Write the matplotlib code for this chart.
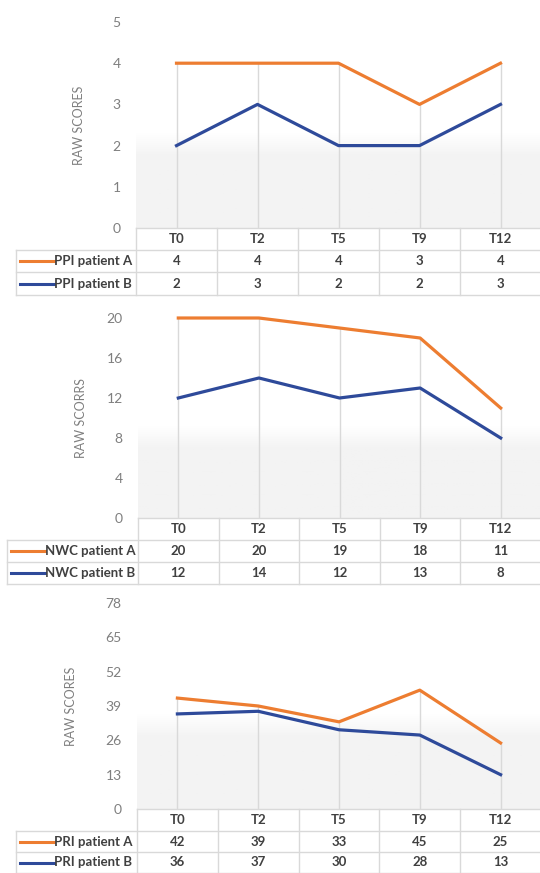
import numpy as np
import matplotlib
matplotlib.use("Agg")
import matplotlib.pyplot as plt
from matplotlib.colors import LinearSegmentedColormap

W, H = 540, 873
ORANGE = "#ED7D31"
BLUE = "#2E4A9A"
GRID = "#D9D9D9"
TXT = "#404040"
TICK = "#7F7F7F"

plt.rcParams["font.family"] = ["Lato", "DejaVu Sans"]

categories = ["T0", "T2", "T5", "T9", "T12"]

ppi_a = [4, 4, 4, 3, 4]
ppi_b = [2, 3, 2, 2, 3]
nwc_a = [20, 20, 19, 18, 11]
nwc_b = [12, 14, 12, 13, 8]
pri_a = [42, 39, 33, 45, 25]
pri_b = [36, 37, 30, 28, 13]

panels = [
    # series, labels, ylabel, yticks, layout (pixels)
    dict(a=ppi_a, b=ppi_b, names=("PPI patient A", "PPI patient B"),
         ylabel="RAW SCORES", yticks=[0, 1, 2, 3, 4, 5],
         top=22, bottom=228, rows=(228, 250, 272, 295),
         lab_l=16, left=136, right=541, ylab_x=85),
    dict(a=nwc_a, b=nwc_b, names=("NWC patient A", "NWC patient B"),
         ylabel="RAW SCORRS", yticks=[0, 4, 8, 12, 16, 20],
         top=318, bottom=518, rows=(518, 540, 562, 584),
         lab_l=7, left=138, right=541, ylab_x=87),
    dict(a=pri_a, b=pri_b, names=("PRI patient A", "PRI patient B"),
         ylabel="RAW SCORES", yticks=[0, 13, 26, 39, 52, 65, 78],
         top=603, bottom=809, rows=(809, 831, 852, 873),
         lab_l=16, left=137, right=541, ylab_x=77),
]

fig = plt.figure(figsize=(W / 100, H / 100), dpi=100)
fig.patch.set_facecolor("white")

# overlay in pixel coordinates for the data tables
ov = fig.add_axes([0, 0, 1, 1], zorder=5)
ov.set_xlim(0, W)
ov.set_ylim(H, 0)
ov.axis("off")
ov.patch.set_alpha(0)

x = np.arange(len(categories))
grad = np.concatenate([np.linspace(0, 1, 25), np.ones(75)]).reshape(-1, 1)
shade = LinearSegmentedColormap.from_list("g", ["#FFFFFF", "#F3F3F3"])
FS = 9.5

for p in panels:
    ax = fig.add_axes([p["left"] / W, (H - p["bottom"]) / H,
                       (p["right"] - p["left"]) / W,
                       (p["bottom"] - p["top"]) / H])
    ymax = p["yticks"][-1]
    for s in ax.spines.values():
        s.set_visible(False)
    ax.set_xticks([])
    ax.set_yticks(p["yticks"])
    ax.tick_params(axis="y", length=0, pad=11, labelsize=10, labelcolor=TICK)
    ax.set_ylabel(p["ylabel"], fontsize=9, color=TICK)
    ax.yaxis.set_label_coords(-(p["left"] - p["ylab_x"]) / (p["right"] - p["left"]), 0.5)

    # soft grey shading in the lower part of the plot area
    ax.imshow(grad, extent=(0, 1, 0, 0.46), transform=ax.transAxes, cmap=shade,
              aspect="auto", zorder=0, interpolation="bilinear")
    ax.set_xlim(-0.5, len(categories) - 0.5)
    ax.set_ylim(0, ymax)

    # drop lines
    tops = np.maximum(p["a"], p["b"])
    ax.vlines(x, 0, tops, color=GRID, lw=1, zorder=1)

    ax.plot(x, p["a"], color=ORANGE, lw=2.3, zorder=3, clip_on=False)
    ax.plot(x, p["b"], color=BLUE, lw=2.3, zorder=3, clip_on=False)

    # data table
    r0, r1, r2, r3 = p["rows"]
    L, R, LL = p["left"], p["right"], p["lab_l"]
    cw = (R - L) / len(categories)
    kw = dict(color=GRID, lw=1)
    ov.plot([L, R], [r0, r0], **kw)
    for yy in (r1, r2, r3):
        ov.plot([LL, R], [yy, yy], **kw)
    ov.plot([LL, LL], [r1, r3], **kw)
    for i in range(len(categories) + 1):
        ov.plot([L + i * cw, L + i * cw], [r0, r3], **kw)
    for i, c in enumerate(categories):
        cx = L + (i + 0.5) * cw
        ov.text(cx, (r0 + r1) / 2, c, ha="center", va="center",
                fontsize=FS, fontweight="bold", color=TXT)
        ov.text(cx, (r1 + r2) / 2, str(p["a"][i]), ha="center", va="center",
                fontsize=FS, fontweight="bold", color=TXT)
        ov.text(cx, (r2 + r3) / 2, str(p["b"][i]), ha="center", va="center",
                fontsize=FS, fontweight="bold", color=TXT)
    for (ya, yb), name, col in (((r1, r2), p["names"][0], ORANGE),
                                ((r2, r3), p["names"][1], BLUE)):
        ym = (ya + yb) / 2
        ov.plot([LL + 4, LL + 38], [ym, ym], color=col, lw=2.2)
        ov.text(LL + 38, ym, name, ha="left", va="center",
                fontsize=FS, fontweight="bold", color=TXT)

fig.savefig("out.png", dpi=100, facecolor="white")
